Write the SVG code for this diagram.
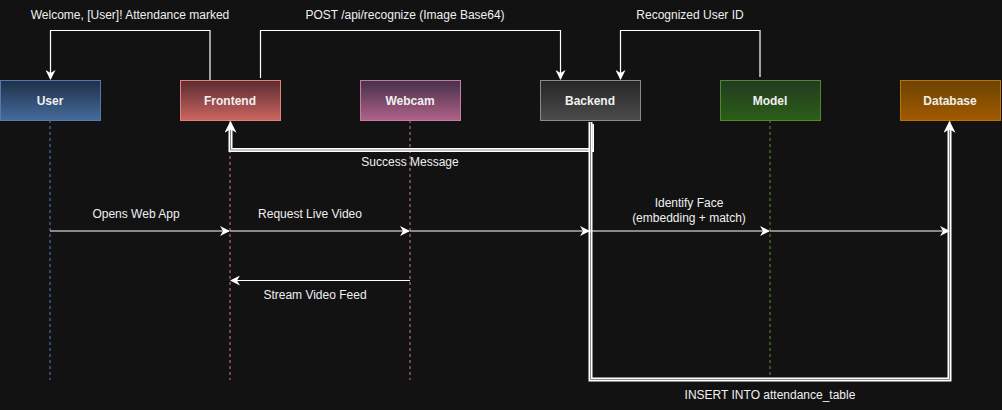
<svg xmlns="http://www.w3.org/2000/svg" width="1002" height="410" viewBox="0 0 1002 410">
<defs>
<style>
text{font-family:"Liberation Sans",Arial,sans-serif;font-size:12px;fill:#f0f0f0;text-anchor:middle}
.node text{font-weight:bold}
.c{fill:none;stroke:#ffffff;stroke-width:1.2}
.life{fill:none;stroke-width:1;stroke-dasharray:3 3}
.dbl{fill:none;stroke:#ffffff;stroke-width:4}
.dbl2{fill:none;stroke:#8a8a8a;stroke-width:1}
</style>
<marker id="ah" viewBox="0 0 10 10" refX="9" refY="5" markerWidth="10" markerHeight="10" markerUnits="userSpaceOnUse" orient="auto">
<path d="M0,0 L10,5 L0,10 L3,5 z" fill="#ffffff"/>
</marker>
<marker id="ahb" viewBox="0 0 10 10" refX="9" refY="5" markerWidth="12" markerHeight="12" markerUnits="userSpaceOnUse" orient="auto">
<path d="M0,0 L10,5 L0,10 L3,5 z" fill="#ffffff"/>
</marker>
<linearGradient id="gU" x1="0" y1="0" x2="0" y2="1"><stop offset="0" stop-color="#1e3049"/><stop offset="1" stop-color="#466b9c"/></linearGradient>
<linearGradient id="gF" x1="0" y1="0" x2="0" y2="1"><stop offset="0" stop-color="#5a2c2f"/><stop offset="1" stop-color="#cc6562"/></linearGradient>
<linearGradient id="gW" x1="0" y1="0" x2="0" y2="1"><stop offset="0" stop-color="#46304a"/><stop offset="1" stop-color="#b06289"/></linearGradient>
<linearGradient id="gB" x1="0" y1="0" x2="0" y2="1"><stop offset="0" stop-color="#262626"/><stop offset="1" stop-color="#4c4c4c"/></linearGradient>
<linearGradient id="gM" x1="0" y1="0" x2="0" y2="1"><stop offset="0" stop-color="#223a22"/><stop offset="1" stop-color="#2c5e17"/></linearGradient>
<linearGradient id="gD" x1="0" y1="0" x2="0" y2="1"><stop offset="0" stop-color="#6b4300"/><stop offset="1" stop-color="#a35a00"/></linearGradient>
</defs>
<rect width="1002" height="410" fill="#121212"/>

<g id="lifelines">
<line class="life" x1="50" y1="120" x2="50" y2="380" stroke="#5a7fb5"/>
<line class="life" x1="230" y1="120" x2="230" y2="380" stroke="#e07a78"/>
<line class="life" x1="410" y1="120" x2="410" y2="380" stroke="#c47aa0"/>
<line class="life" x1="770" y1="120" x2="770" y2="380" stroke="#5c8f3a"/>
<line class="life" x1="950" y1="120" x2="950" y2="380" stroke="#c07a10"/>
</g>

<g id="node-user" class="node">
<rect x="0.5" y="80.5" width="100" height="40" fill="url(#gU)" stroke="#5679ad"/>
<text x="50" y="104.5">User</text>
</g>
<g id="node-frontend" class="node">
<rect x="180.5" y="80.5" width="100" height="40" fill="url(#gF)" stroke="#e3817c"/>
<text x="230" y="104.5">Frontend</text>
</g>
<g id="node-webcam" class="node">
<rect x="360.5" y="80.5" width="100" height="40" fill="url(#gW)" stroke="#c47ca2"/>
<text x="410" y="104.5">Webcam</text>
</g>
<g id="node-backend" class="node">
<rect x="540.5" y="80.5" width="100" height="40" fill="url(#gB)" stroke="#8a8a8a"/>
<text x="590" y="104.5">Backend</text>
</g>
<g id="node-model" class="node">
<rect x="720.5" y="80.5" width="100" height="40" fill="url(#gM)" stroke="#4f8a2a"/>
<text x="770" y="104.5">Model</text>
</g>
<g id="node-database" class="node">
<rect x="900.5" y="80.5" width="100" height="40" fill="url(#gD)" stroke="#b87400"/>
<text x="950" y="104.5">Database</text>
</g>

<g id="connectors">
<path class="c" d="M210,80 V30.5 H50.5 V79" marker-end="url(#ah)"/>
<path class="c" d="M260.5,78 V30.5 H560.5 V79" marker-end="url(#ah)"/>
<path class="c" d="M760,77 V30.5 H620.5 V79" marker-end="url(#ah)"/>

<path class="dbl" d="M592,124 V150 H230.5 V128"/>
<path class="dbl2" d="M592,124 V150 H230.5 V128"/>
<path class="c" d="M230.5,130 V122" marker-end="url(#ahb)"/>

<path class="dbl" d="M590.5,122 V379.5 H949.5 V128"/>
<path class="dbl2" d="M590.5,122 V379.5 H949.5 V128"/>
<path class="c" d="M949.5,130 V122" marker-end="url(#ahb)"/>

<path class="c" d="M50,231 H229" marker-end="url(#ah)"/>
<path class="c" d="M230,231 H409" marker-end="url(#ah)"/>
<path class="c" d="M410,231 H589" marker-end="url(#ah)"/>
<path class="c" d="M590,231 H769" marker-end="url(#ah)"/>
<path class="c" d="M770,231 H949" marker-end="url(#ah)"/>
<path class="c" d="M410,280.5 H231" marker-end="url(#ah)"/>
</g>

<g id="labels">
<text x="130" y="19">Welcome, [User]! Attendance marked</text>
<text x="405" y="19">POST /api/recognize (Image Base64)</text>
<text x="690" y="19">Recognized User ID</text>
<text x="410" y="166">Success Message</text>
<text x="136" y="218">Opens Web App</text>
<text x="310" y="218">Request Live Video</text>
<text x="689" y="207">Identify Face</text>
<text x="689" y="222">(embedding + match)</text>
<text x="315" y="299">Stream Video Feed</text>
<text x="770" y="399">INSERT INTO attendance_table</text>
</g>
</svg>
